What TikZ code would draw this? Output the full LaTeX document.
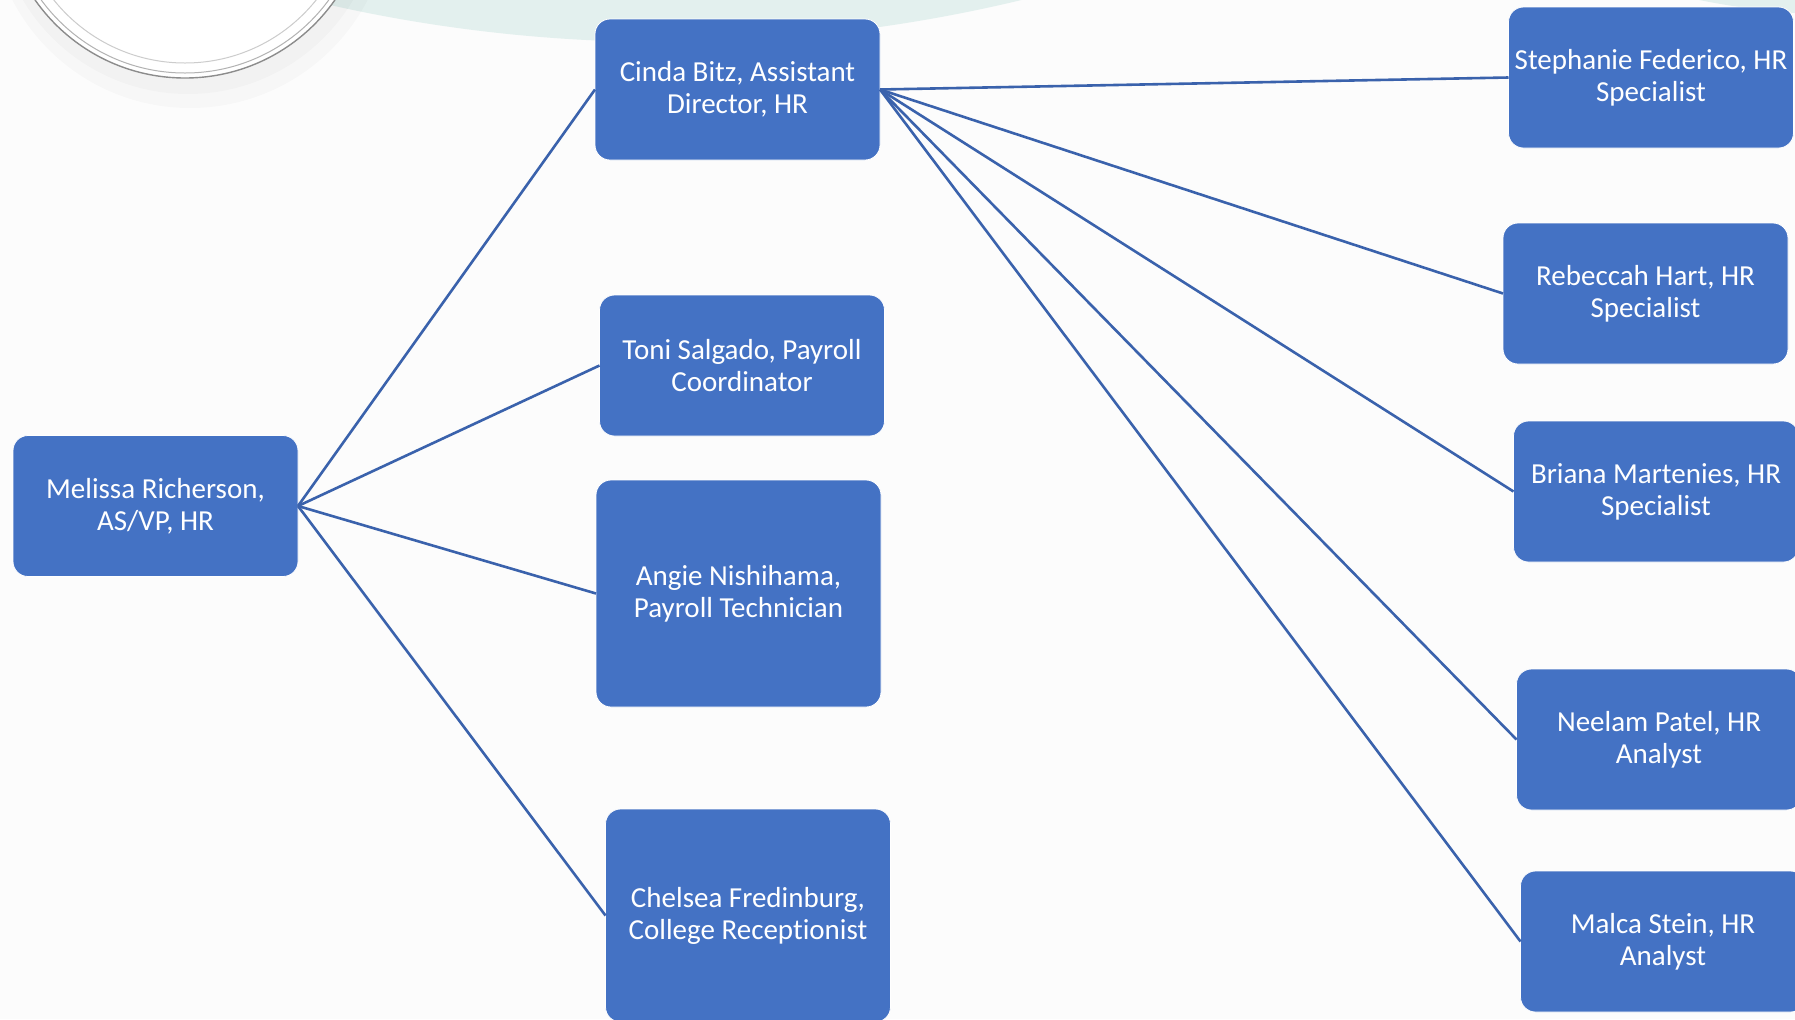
\documentclass[tikz,border=0pt]{standalone}
\usepackage{fontspec}
\setmainfont{Carlito}[Ligatures={NoCommon}]
\usepackage{tikz}

\definecolor{boxblue}{HTML}{4472C4}
\definecolor{lineblue}{HTML}{3A62AC}
\definecolor{paleteal}{HTML}{E3F0EE}

\begin{document}
\begin{tikzpicture}[x=0.5pt,y=-0.5pt,
  person/.style={draw=white,line width=0.4pt,fill=boxblue,rounded corners=7.5pt,
    text=white,minimum width=142.5pt,minimum height=70.5pt,inner sep=0pt,outer sep=0pt,
    align=center,font=\fontsize{14.5}{16}\selectfont},
  link/.style={draw=lineblue,line width=1.3pt}]
\useasboundingbox (0,0) rectangle (1795,1019);
\fill[black!1] (0,0) rectangle (1795,1019);

% background
\fill[paleteal] (665,-1479) circle (1521);
\fill[paleteal] (1850,-742) circle (757);
\fill[black,opacity=0.02] (190,-92) circle (200);
\fill[black,opacity=0.02] (188,-98) circle (192);
\fill[white] (185,-105) circle (183);
\draw[black!45,line width=0.7pt] (185,-105) circle (183);
\draw[black!30,line width=0.5pt] (185,-105) circle (178);
\draw[black!20,line width=0.5pt] (185,-105) circle (168);

\node [person] (mr) at(155.5,506){Melissa Richerson,\\AS/VP, HR};

\node [person] (cb) at(737.5,89.5){Cinda Bitz, Assistant\\Director, HR};
\node [person] (ts) at(742,365.5){Toni Salgado, Payroll\\Coordinator};
\node [person,minimum height=113.5pt] (an) at(738.5,593.5){Angie Nishihama,\\Payroll Technician};
\node [person,minimum height=106.5pt] (cf) at(748,915.5){Chelsea Fredinburg,\\College Receptionist};

\node [person] (sf) at(1651,77.5){Stephanie Federico, HR\\Specialist};
\node [person] (rh) at(1645.5,293.5){Rebeccah Hart, HR\\Specialist};
\node [person] (bm) at(1656,491.5){Briana Martenies, HR\\Specialist};
\node [person] (np) at(1659,739.5){Neelam Patel, HR\\Analyst};
\node [person] (ms) at(1663,941.5){Malca Stein, HR\\Analyst};

\draw[link](mr.east) -- (cb.west);
\draw[link](mr.east) -- (ts.west);
\draw[link](mr.east) -- (an.west);
\draw[link](mr.east) -- (cf.west);

\draw[link](cb.east) -- (sf.west);
\draw[link](cb.east) -- (rh.west);
\draw[link](cb.east) -- (bm.west);
\draw[link](cb.east) -- (np.west);
\draw[link](cb.east) -- (ms.west);

\end{tikzpicture}
\end{document}
